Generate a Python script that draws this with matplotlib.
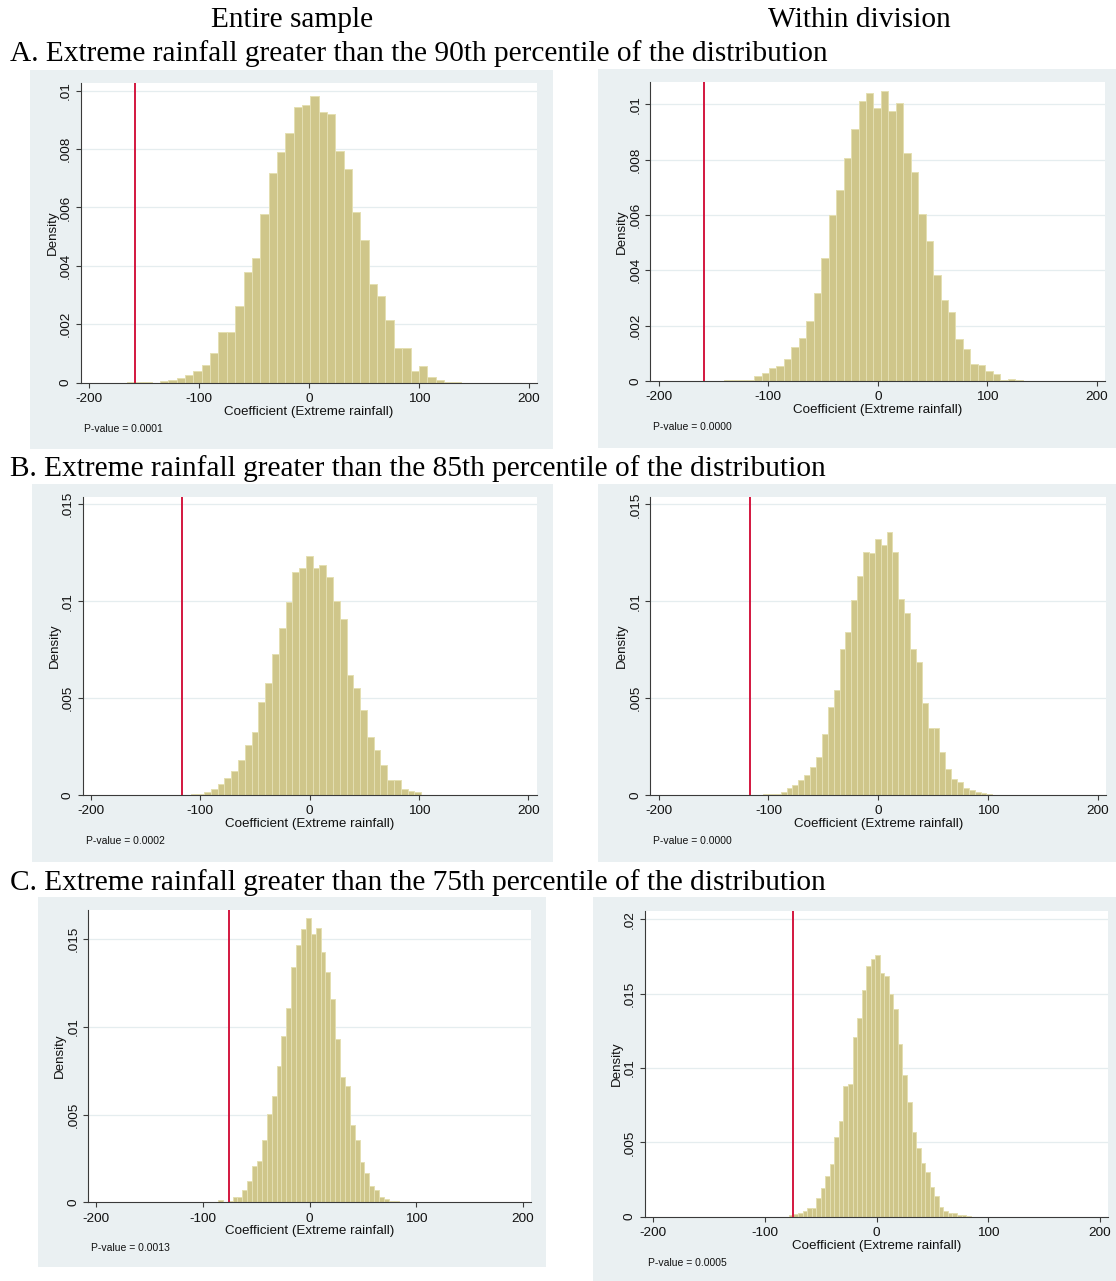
import numpy as np
import matplotlib
matplotlib.use('Agg')
import matplotlib.pyplot as plt
from matplotlib.patches import Rectangle

W, H = 1116, 1281

col_titles = ['Entire sample', 'Within division']
row_titles = ['A. Extreme rainfall greater than the 90th percentile of the distribution',
              'B. Extreme rainfall greater than the 85th percentile of the distribution',
              'C. Extreme rainfall greater than the 75th percentile of the distribution']

# permutation histograms: first bin edge, bin width, densities
a_left_start, a_left_width = -166.0, 7.6
a_left_density = [0.00002, 0.00002, 0.00002, 0.0,
                  0.00005, 0.0001, 0.00015, 0.00026, 0.00039, 0.00062, 0.00103, 0.00174,
                  0.00175, 0.00264, 0.00378, 0.00426, 0.00576, 0.00719, 0.0079, 0.00855,
                  0.00944, 0.0095, 0.00983, 0.00928, 0.0092, 0.00793, 0.00732, 0.00583,
                  0.0049, 0.00337, 0.00296, 0.00216, 0.00118, 0.00118, 0.00039, 0.00057,
                  0.00021, 0.0001, 0.00003, 0.00002]

a_right_start, a_right_width = -140.0, 6.8
a_right_density = [0.00002, 0.00002, 0.00002, 0.00002,
                   0.00018, 0.00029, 0.00046, 0.00054, 0.00078, 0.00124, 0.00154, 0.00217,
                   0.00318, 0.00445, 0.00599, 0.00689, 0.00808, 0.0091, 0.01013, 0.01042,
                   0.00987, 0.01048, 0.00977, 0.01005, 0.00823, 0.00754, 0.00605, 0.00505,
                   0.00384, 0.00292, 0.00249, 0.00153, 0.00117, 0.00063, 0.00057, 0.00035,
                   0.00027, 0.00004, 0.00006, 0.00002]

b_left_start, b_left_width = -127.5, 6.2
b_left_density = [0.00002, 0.00002, 0.00002, 0.00003, 0.00005,
                  0.00014, 0.00031, 0.00055, 0.0009, 0.00126, 0.00179, 0.0026, 0.00325,
                  0.0048, 0.00578, 0.00725, 0.00862, 0.00995, 0.0115, 0.01169,
                  0.01231, 0.01169, 0.01188, 0.01127, 0.01002, 0.00907, 0.0062, 0.00551,
                  0.00437, 0.00299, 0.00231, 0.00155, 0.00079, 0.00076, 0.00031, 0.00021,
                  0.00017, 0.00001, 0.00002, 0.00002]

b_right_start, b_right_width = -110.2, 5.35
b_right_density = [0.00002, 0.00003, 0.00005,
                   0.00007, 0.00014, 0.00034, 0.0005, 0.00077, 0.00102, 0.00146, 0.00196,
                   0.00313, 0.00454, 0.0054, 0.00756, 0.0084, 0.01005, 0.01131, 0.01256,
                   0.01248, 0.01322, 0.01289, 0.01356, 0.01256, 0.0101, 0.0094, 0.00752,
                   0.00687, 0.00477, 0.00346, 0.00346, 0.00222, 0.00133, 0.00084, 0.00069,
                   0.00034, 0.00028, 0.00017, 0.00009, 0.00003]

c_left_start, c_left_width = -86.0, 4.58
c_left_density = [0.00013, 0.00002, 0.00008, 0.0003, 0.0003, 0.0007, 0.00122, 0.00207,
                  0.00236, 0.00356, 0.00502, 0.00605, 0.0078, 0.00949, 0.01108, 0.01342,
                  0.01466, 0.01557, 0.0162, 0.0153, 0.01567, 0.01426, 0.01314, 0.0116,
                  0.0093, 0.00713, 0.00662, 0.00441, 0.00354, 0.00232, 0.00167, 0.00093,
                  0.00068, 0.0003, 0.00017, 0.00008, 0.00006, 0.00004, 0.00002, 0.00002]

c_right_start, c_right_width = -78.6, 4.07
c_right_density = [0.00011, 0.00016, 0.00027, 0.00038, 0.00056, 0.00056, 0.00123, 0.00191,
                   0.00274, 0.00352, 0.00534, 0.00641, 0.00877, 0.00895, 0.01211, 0.01336,
                   0.01525, 0.01686, 0.01733, 0.01758, 0.01641, 0.01621, 0.015, 0.01397,
                   0.01164, 0.00951, 0.00769, 0.00569, 0.00462, 0.00363, 0.00303, 0.00202,
                   0.00139, 0.00065, 0.00038, 0.00022, 0.00025, 0.00009, 0.00011, 0.00004]

observed_coef = [-158.2, -158.2, -116.5, -116.5, -75.3, -75.3]
p_values = ['0.0001', '0.0000', '0.0002', '0.0000', '0.0013', '0.0005']

x_ticks = [-200, -100, 0, 100, 200]
y_ticks_a = [0, 0.002, 0.004, 0.006, 0.008, 0.01]
y_labels_a = ['0', '.002', '.004', '.006', '.008', '.01']
y_ticks_b = [0, 0.005, 0.01, 0.015]
y_labels_b = ['0', '.005', '.01', '.015']
y_ticks_c2 = [0, 0.005, 0.01, 0.015, 0.02]
y_labels_c2 = ['0', '.005', '.01', '.015', '.02']

hists = [(a_left_start, a_left_width, a_left_density),
         (a_right_start, a_right_width, a_right_density),
         (b_left_start, b_left_width, b_left_density),
         (b_right_start, b_right_width, b_right_density),
         (c_left_start, c_left_width, c_left_density),
         (c_right_start, c_right_width, c_right_density)]
yticks = [(y_ticks_a, y_labels_a), (y_ticks_a, y_labels_a),
          (y_ticks_b, y_labels_b), (y_ticks_b, y_labels_b),
          (y_ticks_b, y_labels_b), (y_ticks_c2, y_labels_c2)]
ytops = [0.01027, 0.0108, 0.01539, 0.0154, 0.01667, 0.02058]

# layout in pixels: graph region and plot region (x0, y0, x1, y1)
bg_boxes = [(30, 70, 553, 449), (598, 69, 1116, 448),
            (32, 484, 553, 862), (598, 484, 1116, 862),
            (38, 897, 546, 1267), (593, 897, 1116, 1281)]
ax_boxes = [(81, 82.7, 537, 382.7), (650.3, 82.3, 1105.3, 381),
            (82.7, 496.7, 536.7, 795), (650.3, 496.7, 1106.3, 795),
            (88.3, 910, 531, 1202.3), (645, 910.7, 1108.3, 1216.7)]

bg_col = '#EAF0F2'
bar_col = '#CFC68A'
bar_edge = '#E4DFB2'
red = '#D3173F'
sans = 'Liberation Sans'
serif = 'Liberation Serif'

fig = plt.figure(figsize=(W / 100, H / 100), dpi=100)
fig.patch.set_facecolor('white')


def fbox(b):
    x0, y0, x1, y1 = b
    return [x0 / W, 1 - y1 / H, (x1 - x0) / W, (y1 - y0) / H]


def ftext(x, y, s, **kw):
    fig.text(x / W, 1 - y / H, s, **kw)


for i in range(6):
    bx = fbox(bg_boxes[i])
    fig.patches.append(Rectangle((bx[0], bx[1]), bx[2], bx[3], transform=fig.transFigure,
                                 facecolor=bg_col, edgecolor='none', zorder=-5))

    ax = fig.add_axes(fbox(ax_boxes[i]))
    ax.set_facecolor('white')
    start, width, dens = hists[i]
    edges = start + width * np.arange(len(dens))
    ax.bar(edges, dens, width=width, align='edge', color=bar_col,
           edgecolor=bar_edge, linewidth=0.7, zorder=2)
    ax.axvline(observed_coef[i], color=red, lw=1.4, zorder=3)

    ticks, labels = yticks[i]
    ax.set_xlim(-207.5, 207.5)
    ax.set_ylim(0, ytops[i])
    ax.set_xticks(x_ticks)
    ax.set_xticklabels([str(t) for t in x_ticks], family=sans, fontsize=9.7)
    ax.set_yticks(ticks)
    ax.set_yticklabels(labels, family=sans, fontsize=9.7, rotation=90, va='center')
    for t in ticks[1:]:
        ax.axhline(t, color='#E5EDEF', lw=0.9, zorder=1)
    for s in ['top', 'right']:
        ax.spines[s].set_visible(False)
    for s in ['left', 'bottom']:
        ax.spines[s].set_color('#3a3a3a')
        ax.spines[s].set_linewidth(0.8)
    ax.tick_params(length=3.5, width=0.8, color='#3a3a3a', labelcolor='#111111')
    ax.tick_params(axis='x', pad=4)
    ax.tick_params(axis='y', pad=3)

    x0, y0, x1, y1 = ax_boxes[i]
    ftext(x0 - 28, (y0 + y1) / 2, 'Density', family=sans, fontsize=9.6,
          rotation=90, ha='center', va='center', color='#111111')
    ftext((x0 + x1) / 2, y1 + 29, 'Coefficient (Extreme rainfall)', family=sans,
          fontsize=9.6, ha='center', va='center', color='#111111')
    ftext(x0 + 3, y1 + 46, 'P-value = ' + p_values[i], family=sans, fontsize=7.5,
          ha='left', va='center', color='#111111')

ftext(292, 20, col_titles[0], family=serif, fontsize=21.2, ha='center', va='center')
ftext(859, 20, col_titles[1], family=serif, fontsize=21.2, ha='center', va='center')
for y, t in zip([54, 469, 883], row_titles):
    ftext(10, y, t, family=serif, fontsize=21.2, ha='left', va='center')

fig.savefig('out.png', dpi=100, facecolor='white')
